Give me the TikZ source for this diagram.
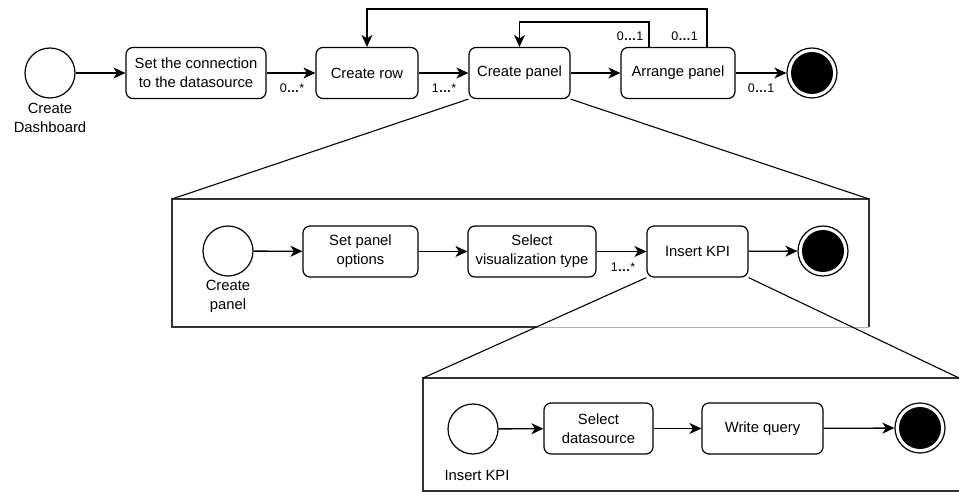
\documentclass[tikz,border=0pt]{standalone}
\usepackage{fontspec}
\setmainfont{Liberation Sans}
\usetikzlibrary{arrows.meta}
\begin{document}
\begin{tikzpicture}[x=1pt,y=-1pt,
  every node/.style={font=\fontsize{14.8}{19}\selectfont},
  act/.style={draw, line width=1.2pt, rounded corners=7pt, minimum height=51pt, align=center, inner sep=0pt},
  startc/.style={draw, line width=1.2pt, circle, minimum size=50pt, inner sep=0pt},
  endc/.style={draw, line width=1.2pt, circle, minimum size=50pt, inner sep=0pt, path picture={\fill[black] (path picture bounding box.center) circle (21pt);}},
  flow/.style={line width=1.3pt, -{Stealth[length=12pt,width=11pt,inset=3.5pt]}},
  mult/.style={font=\fontsize{12.5}{14}\selectfont, inner sep=0pt},
  frame/.style={line width=1.3pt, draw=black!80},
  zoomline/.style={line width=1.1pt}
]
\useasboundingbox (0,0) rectangle (959,492);

% top row
\node[startc] (s1) at (50,73) {};
\node[align=center, inner sep=0pt] (s1l) at (50,118) {Create\\Dashboard};
\node[act, minimum width=140pt] (b1) at (196,73) {Set the connection\\to the datasource};
\node[act, minimum width=102pt] (b2) at (367,73) {Create row};
\node[act, minimum width=101pt] (b3) at (519.5,73) {Create panel};
\node[act, minimum width=114pt] (b4) at (678,73) {Arrange panel};
\node[endc] (e1) at (812,73) {};

\draw[flow] (s1) -- (b1);
\draw[flow] (b1) -- (b2);
\draw[flow] (b2) -- (b3);
\draw[flow] (b3) -- (b4);
\draw[flow] (b4) -- (e1);

\coordinate (o1) at (707,48);
\coordinate (o2) at (649,48);
\draw[flow] (o1) -- (707,9) -- (367,9) -- (b2.north);
\draw[flow] (o2) -- (649,22) -- (519.5,22) -- (b3.north);

\node[mult] (m1l) at (292,88) {0\textbf{…}*};
\node[mult] (m2l) at (444,88) {1\textbf{…}*};
\node[mult] (m3l) at (761,88) {0\textbf{…}1};
\node[mult] (m4l) at (630,36) {0\textbf{…}1};
\node[mult] (m5l) at (684.5,36) {0\textbf{…}1};

% middle frame
\coordinate (mtl) at (172,199);
\coordinate (mtr) at (869,199);
\coordinate (mbl) at (172,327);
\coordinate (mbr) at (869,327);
\coordinate (mbm) at (537,327);
\draw[frame] (mbm) -- (mbl) -- (mtl) -- (mtr) -- (mbr);
\draw[line width=0.8pt, black!30] (mbm) -- (mbr);
\draw[zoomline] (b3.south west) -- (mtl);
\draw[zoomline] (b3.south east) -- (mtr);

\node[startc] (c2) at (228,251) {};
\node[align=center, inner sep=0pt] (c2l) at (228,296) {Create\\panel};
\node[act, minimum width=115pt] (p1) at (360.5,251.5) {Set panel\\options};
\node[act, minimum width=128pt] (p2) at (532,251.5) {Select\\visualization type};
\node[act, minimum width=101pt] (p3) at (697.5,251.5) {Insert KPI};
\node[endc] (e2) at (823,251) {};
\draw[flow] (c2) -- (p1);
\draw[flow] (p1) -- (p2);
\draw[flow] (p2) -- (p3);
\draw[flow] (p3) -- (e2);
\node[mult] (p2l) at (623,267) {1\textbf{…}*};

% bottom frame
\coordinate (btl) at (423,378);
\coordinate (btr) at (959,378);
\coordinate (bbl) at (423,491);
\coordinate (bbr) at (959,491);
\draw[frame] (btr) -- (btl) -- (bbl) -- (bbr);
\draw[zoomline] (p3.south west) -- (btl);
\draw[zoomline] (p3.south east) -- (btr);

\node[startc] (c3) at (473,429) {};
\node[inner sep=0pt] (c3l) at (477,475) {Insert KPI};
\node[act, minimum width=109pt] (q1) at (598.5,428.5) {Select\\datasource};
\node[act, minimum width=121pt] (q2) at (762.5,428.5) {Write query};
\node[endc] (e3) at (920,428) {};
\draw[flow] (c3) -- (q1);
\draw[flow] (q1) -- (q2);
\draw[flow] (q2) -- (e3);
\end{tikzpicture}
\end{document}
